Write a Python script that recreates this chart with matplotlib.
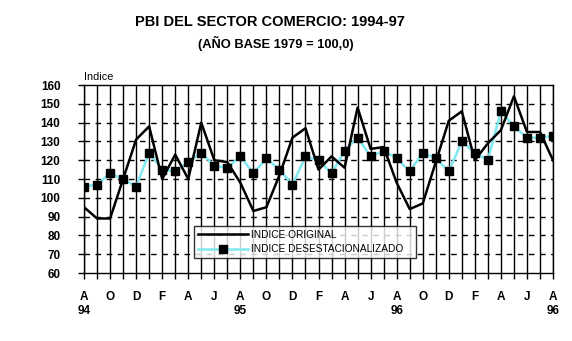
import matplotlib
matplotlib.use("Agg")
import matplotlib.pyplot as plt
from matplotlib.lines import Line2D
import matplotlib.transforms as mtransforms

plt.rcParams['font.family'] = ['Liberation Sans', 'DejaVu Sans']

# monthly series, Aug 1994 .. Aug 1997
original = [95, 89, 89, 110, 131, 138, 110, 123, 110, 140, 120, 119,
            108, 93, 95, 112, 132, 137, 115, 122, 116, 148, 126, 127,
            108, 94, 97, 119, 141, 146, 120, 129, 136, 154, 135, 135, 120]
desest = [106, 107, 113, 110, 106, 124, 115, 114, 119, 124, 117, 116,
          122, 113, 121, 115, 107, 122, 120, 113, 125, 132, 122, 125,
          121, 114, 124, 121, 114, 130, 124, 120, 146, 138, 132, 132, 133]
month_labels = ['A', 'O', 'D', 'F', 'A', 'J', 'A', 'O', 'D', 'F', 'A', 'J',
                'A', 'O', 'D', 'F', 'A', 'J', 'A']
year_labels = {0: '94', 12: '95', 24: '96', 36: '96'}

months = list(range(len(original)))

fig = plt.figure(figsize=(5.72, 3.41), dpi=100)
ax = fig.add_axes([0.1469, 0.1994, 0.8199, 0.5513])

# grid: solid verticals every month, dashed horizontals every 10
for m in months:
    ax.axvline(m, color='black', lw=1.0, zorder=1)
for v in range(70, 160, 10):
    ax.axhline(v, color='black', lw=1.0, ls=(0, (4, 4)), zorder=1)

ax.plot(months, desest, color='#7fe8f0', lw=1.8, zorder=2)
ax.plot(months, desest, ls='none', marker='s', ms=6, color='black', zorder=4)
ax.plot(months, original, color='black', lw=1.8, zorder=3)

ax.set_xlim(0, 36)
ax.set_ylim(60, 160)
ax.set_yticks(range(60, 161, 10))
ax.set_xticks(months)
ax.set_xticklabels([month_labels[m // 2] if m % 2 == 0 else '' for m in months])
ax.tick_params(axis='both', direction='out', length=4, width=1, color='black', labelsize=8.5)
ax.tick_params(axis='x', pad=9)
ax.tick_params(axis='y', pad=13)
for lab in ax.get_xticklabels() + ax.get_yticklabels():
    lab.set_fontweight('bold')
for sp in ax.spines.values():
    sp.set_linewidth(1.0)

trans = mtransforms.blended_transform_factory(ax.transData, fig.transFigure)
for m, yr in year_labels.items():
    fig.text(m, 1 - 311.5 / 341, yr, transform=trans, ha='center', va='center',
             fontsize=8.5, fontweight='bold')

fig.text(84 / 572, 1 - 77 / 341, 'Indice', fontsize=7.8, ha='left', va='center')

fig.text(270 / 572, 1 - 22 / 341, 'PBI DEL SECTOR COMERCIO: 1994-97',
         fontsize=10.5, fontweight='bold', ha='center', va='center')
fig.text(276 / 572, 1 - 43 / 341, '(AÑO BASE 1979 = 100,0)',
         fontsize=9.3, fontweight='bold', ha='center', va='center')

handles = [Line2D([], [], color='black', lw=1.8),
           Line2D([], [], color='#7fe8f0', lw=1.8, marker='s', ms=6,
                  markerfacecolor='black', markeredgecolor='black')]
leg = ax.legend(handles, ['INDICE ORIGINAL', 'INDICE DESESTACIONALIZADO'],
                loc='lower left', bbox_to_anchor=(0.2345, 0.08, 0.4735, 0.17),
                mode='expand', fontsize=7.3, handlelength=5.0, frameon=True,
                fancybox=False, borderpad=0.35, labelspacing=0.45,
                handletextpad=0.3, borderaxespad=0)
leg.get_frame().set_edgecolor('black')
leg.get_frame().set_linewidth(1.0)
leg.set_zorder(5)

fig.savefig('out.png', dpi=100)
